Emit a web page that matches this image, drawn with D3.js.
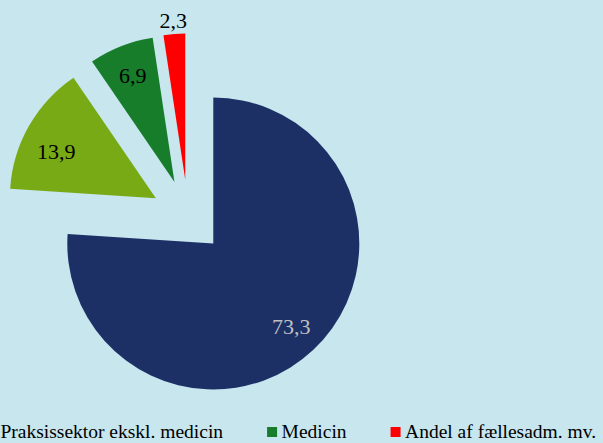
<!DOCTYPE html>
<html>
<head>
<meta charset="utf-8">
<script src="https://cdn.jsdelivr.net/npm/d3@7"></script>
<style>
  html, body { margin: 0; padding: 0; background: #c8e6ee; }
  svg { display: block; }
</style>
</head>
<body>
<div id="chart"></div>
<script>
// Data
const categories = ['Sygehussektor', 'Praksissektor ekskl. medicin', 'Medicin', 'Andel af fællesadm. mv.'];
const values = [73.3, 13.9, 6.9, 2.3];
const valueLabels = ['73,3', '13,9', '6,9', '2,3'];
const legendItems = ['Praksissektor ekskl. medicin', 'Medicin', 'Andel af fællesadm. mv.'];

const colors = ['#1c3066', '#78aa16', '#177d2b', '#ff0000'];
const labelColors = ['#c0c0c0', '#000', '#000', '#000'];
const labelRadius = [114, 110, 114, 160];
const labelShift = [0, -4.7, 0, 0]; // degrés

const width = 603, height = 443;
const cx = 188, cy = 216.5, radius = 146, explode = 37;

const svg = d3.select('#chart').append('svg')
    .attr('width', width)
    .attr('height', height);

svg.append('rect')
    .attr('width', width)
    .attr('height', height)
    .attr('fill', '#c8e6ee');

const pie = d3.pie().sort(null).value(d => d);
const arcs = pie(values);

const arc = d3.arc().innerRadius(0).outerRadius(radius);

const g = svg.append('g').attr('transform', `translate(${cx},${cy})`);

// décalage de chaque secteur (explosion)
const offset = d => {
    const mid = (d.startAngle + d.endAngle) / 2;
    return [Math.sin(mid) * explode, -Math.cos(mid) * explode];
};

const slices = g.selectAll('.slice')
    .data(arcs)
    .enter().append('g')
    .attr('class', 'slice')
    .attr('transform', d => `translate(${offset(d)})`);

slices.append('path')
    .attr('d', arc)
    .attr('fill', (d, i) => colors[i]);

slices.append('text')
    .attr('transform', (d, i) => {
        const la = d3.arc().innerRadius(labelRadius[i]).outerRadius(labelRadius[i]);
        const s = labelShift[i] * Math.PI / 180;
        return `translate(${la.centroid({ startAngle: d.startAngle + s, endAngle: d.endAngle + s })})`;
    })
    .attr('text-anchor', 'middle')
    .attr('dominant-baseline', 'central')
    .attr('font-family', '"Liberation Serif", "Times New Roman", serif')
    .attr('font-size', 22)
    .attr('fill', (d, i) => labelColors[i])
    .text((d, i) => valueLabels[i]);

// Légende
const legend = svg.append('g')
    .attr('font-family', '"Liberation Serif", "Times New Roman", serif')
    .attr('font-size', 19.5);

let x = -14;
const legendY = 438;
legendItems.forEach(name => {
    const i = categories.indexOf(name);
    legend.append('rect')
        .attr('x', x)
        .attr('y', legendY - 11)
        .attr('width', 10)
        .attr('height', 10)
        .attr('fill', colors[i]);
    const t = legend.append('text')
        .attr('x', x + 14.5)
        .attr('y', legendY)
        .attr('fill', '#000')
        .text(name);
    x += 14.5 + t.node().getComputedTextLength() + 44;
});
</script>
</body>
</html>
